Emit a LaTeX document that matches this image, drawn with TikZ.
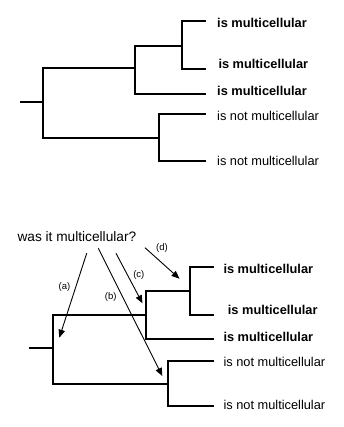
\documentclass[tikz,border=0pt]{standalone}
\usepackage{fontspec}
\setmainfont{Liberation Sans}
\usetikzlibrary{arrows.meta}
\begin{document}
\begin{tikzpicture}[x=1pt,y=-1pt,
  branch/.style={line width=1.8pt,line cap=rect},
  pointer/.style={line width=0.9pt,-{Triangle[length=8pt,width=6.5pt]}},
  leaf/.style={anchor=west,inner sep=0pt,font=\fontsize{12.8}{14}\selectfont},
  yes/.style={leaf,font=\fontsize{12.8}{14}\selectfont\bfseries},
  tag/.style={inner sep=0pt,font=\fontsize{9.5}{11}\selectfont}]
\useasboundingbox (0,0) rectangle (344,427);

% ---- upper tree ----
\coordinate (t0) at (20.7,102.3);
\coordinate (t1) at (43.3,102.3);
\coordinate (t2) at (135,68.3);
\coordinate (t3) at (181.7,45.7);
\coordinate (t4) at (159,138.3);
\coordinate (l1) at (205,21);
\coordinate (l2) at (205,69);
\coordinate (l3) at (205,94);
\coordinate (l4) at (205,114.3);
\coordinate (l5) at (205,160.7);
\draw[branch] (t0) -- (t1);
\draw[branch] (t1) |- (t2);
\draw[branch] (t1) |- (t4);
\draw[branch] (t2) |- (t3);
\draw[branch] (t2) |- (l3);
\draw[branch] (t3) |- (l1);
\draw[branch] (t3) |- (l2);
\draw[branch] (t4) |- (l4);
\draw[branch] (t4) |- (l5);
\node[yes] (n1) at (217,23.3) {is multicellular};
\node[yes] (n2) at (218.3,64.3) {is multicellular};
\node[yes] (n3) at (217,91) {is multicellular};
\node[leaf] (n4) at (217,115.7) {is not multicellular};
\node[leaf] (n5) at (217,161) {is not multicellular};

% ---- lower tree ----
\coordinate (b0) at (30,348);
\coordinate (b1) at (53.3,348);
\coordinate (b2) at (145.7,314.7);
\coordinate (b3) at (190,290.7);
\coordinate (b4) at (168.3,383.7);
\coordinate (m1) at (213.3,267.3);
\coordinate (m2) at (213.3,314.7);
\coordinate (m3) at (213.3,338.7);
\coordinate (m4) at (213.3,360.7);
\coordinate (m5) at (213.3,405.7);
\draw[branch] (b0) -- (b1);
\draw[branch] (b1) |- (b2);
\draw[branch] (b1) |- (b4);
\draw[branch] (b2) |- (b3);
\draw[branch] (b2) |- (m3);
\draw[branch] (b3) |- (m1);
\draw[branch] (b3) |- (m2);
\draw[branch] (b4) |- (m4);
\draw[branch] (b4) |- (m5);
\node[yes] (k1) at (223.3,269) {is multicellular};
\node[yes] (k2) at (227.7,310) {is multicellular};
\node[yes] (k3) at (223.3,337.3) {is multicellular};
\node[leaf] (k4) at (223.3,361.7) {is not multicellular};
\node[leaf] (k5) at (223.3,405) {is not multicellular};

% ---- question and pointers ----
\node[anchor=west,inner sep=0pt,font=\fontsize{13.7}{15}\selectfont] (q) at (17.3,236.7) {was it multicellular?};
\coordinate (pa0) at (86.7,253.3);
\coordinate (pa1) at (59.3,337.7);
\coordinate (pb0) at (98.3,248.3);
\coordinate (pb1) at (162.3,376);
\coordinate (pc0) at (116,253.3);
\coordinate (pc1) at (142.5,303.3);
\coordinate (pd0) at (145,247.7);
\coordinate (pd1) at (179.5,278.7);
\draw[pointer] (pa0) -- (pa1);
\draw[pointer] (pb0) -- (pb1);
\draw[pointer] (pc0) -- (pc1);
\draw[pointer] (pd0) -- (pd1);
\node[tag] (ta) at (64.5,287.5) {(a)};
\node[tag] (tb) at (110.8,297) {(b)};
\node[tag] (tc) at (138.8,275.5) {(c)};
\node[tag] (td) at (162,248) {(d)};
\end{tikzpicture}
\end{document}
